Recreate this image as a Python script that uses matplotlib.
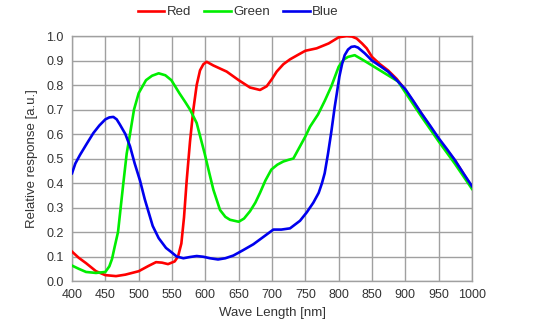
import matplotlib
matplotlib.use("Agg")
import matplotlib.pyplot as plt

plt.rcParams['font.family'] = ['Liberation Sans', 'DejaVu Sans']

# Spectral response of the R, G, B channels
red_nm = [400, 410, 421, 436, 450, 466, 480, 500, 515, 526, 535, 544, 554, 559, 564, 568, 572, 577, 582, 587,
          592, 597, 602, 612, 632, 650, 667, 682, 692, 700, 707, 717, 727, 740, 750, 767, 785, 800, 812, 820,
          827, 835, 842, 850, 862, 874, 887, 900, 925, 950, 975, 1000]
red_val = [0.12, 0.095, 0.073, 0.04, 0.024, 0.02, 0.026, 0.04, 0.062, 0.077, 0.075, 0.069, 0.08, 0.10, 0.153,
           0.26, 0.41, 0.57, 0.70, 0.80, 0.86, 0.885, 0.895, 0.88, 0.855, 0.82, 0.79, 0.78, 0.795, 0.825, 0.855,
           0.885, 0.905, 0.925, 0.94, 0.95, 0.97, 0.995, 1.0, 0.998, 0.99, 0.97, 0.95, 0.915, 0.885, 0.86, 0.825,
           0.78, 0.68, 0.578, 0.49, 0.383]

green_nm = [400, 410, 421, 436, 450, 456, 460, 464, 469, 473, 477, 482, 487, 493, 500, 511, 520, 530, 540, 549,
            561, 570, 577, 587, 599, 606, 612, 622, 630, 637, 650, 658, 667, 675, 682, 690, 699, 708, 717, 725,
            732, 742, 750, 757, 769, 779, 789, 800, 808, 814, 824, 838, 850, 862, 874, 889, 900, 924, 950, 974,
            1000]
green_val = [0.063, 0.05, 0.037, 0.033, 0.037, 0.06, 0.09, 0.14, 0.20, 0.30, 0.40, 0.52, 0.60, 0.70, 0.767,
             0.82, 0.838, 0.848, 0.84, 0.82, 0.767, 0.73, 0.70, 0.645, 0.52, 0.44, 0.373, 0.29, 0.262, 0.25,
             0.242, 0.255, 0.285, 0.32, 0.36, 0.41, 0.455, 0.475, 0.488, 0.495, 0.50, 0.55, 0.59, 0.63, 0.68,
             0.735, 0.795, 0.875, 0.905, 0.915, 0.922, 0.90, 0.88, 0.86, 0.84, 0.815, 0.77, 0.672, 0.57, 0.48,
             0.376]

blue_nm = [400, 405, 412, 422, 432, 441, 450, 456, 462, 467, 472, 480, 487, 494, 502, 509, 515, 521, 530, 541,
           549, 557, 567, 577, 587, 597, 607, 619, 630, 642, 656, 672, 687, 702, 714, 727, 742, 752, 762, 770,
           775, 779, 784, 789, 794, 798, 801, 805, 809, 814, 819, 824, 829, 839, 850, 862, 874, 887, 900, 912,
           924, 937, 950, 962, 974, 987, 1000]
blue_val = [0.44, 0.48, 0.515, 0.56, 0.604, 0.635, 0.66, 0.668, 0.67, 0.66, 0.638, 0.60, 0.55, 0.48, 0.41,
            0.335, 0.28, 0.225, 0.175, 0.135, 0.118, 0.10, 0.093, 0.098, 0.102, 0.099, 0.093, 0.088, 0.093,
            0.104, 0.125, 0.15, 0.18, 0.21, 0.21, 0.215, 0.246, 0.28, 0.32, 0.36, 0.40, 0.44, 0.52, 0.61, 0.71,
            0.78, 0.834, 0.885, 0.922, 0.945, 0.956, 0.958, 0.953, 0.93, 0.90, 0.878, 0.855, 0.82, 0.783, 0.735,
            0.685, 0.635, 0.583, 0.54, 0.495, 0.44, 0.387]

x_ticks = list(range(400, 1001, 50))
y_ticks = [i / 10 for i in range(11)]

fig = plt.figure(figsize=(5.54, 3.31), dpi=100)
ax = fig.add_axes([0.130, 0.151, 0.722, 0.740])

lw = 1.9
ax.plot(red_nm, red_val, color='#ff0000', lw=lw, label='Red', zorder=3)
ax.plot(green_nm, green_val, color='#00ee00', lw=lw, label='Green', zorder=3)
ax.plot(blue_nm, blue_val, color='#0000ee', lw=lw, label='Blue', zorder=4)

ax.set_xlim(400, 1000)
ax.set_ylim(0, 1.0)
ax.set_xticks(x_ticks)
ax.set_yticks(y_ticks)
ax.set_yticklabels([f"{v:.1f}" for v in y_ticks])
ax.grid(True, color='#a0a0a0', lw=1.0)
ax.set_axisbelow(True)
for s in ax.spines.values():
    s.set_color('#a0a0a0')
    s.set_linewidth(1.0)
ax.tick_params(axis='both', length=0, labelsize=9, colors='#333333', pad=6)

ax.set_xlabel('Wave Length [nm]', fontsize=9.5, color='#333333', labelpad=4)
ax.set_ylabel('Relative response [a.u.]', fontsize=9.5, color='#333333', labelpad=6)

fig.legend(loc='center', bbox_to_anchor=(0.43, 0.963), ncol=3, frameon=False, fontsize=9.5,
           handlelength=2.0, handletextpad=0.2, columnspacing=1.0, labelcolor='#333333')

fig.savefig('out.png', dpi=100)
